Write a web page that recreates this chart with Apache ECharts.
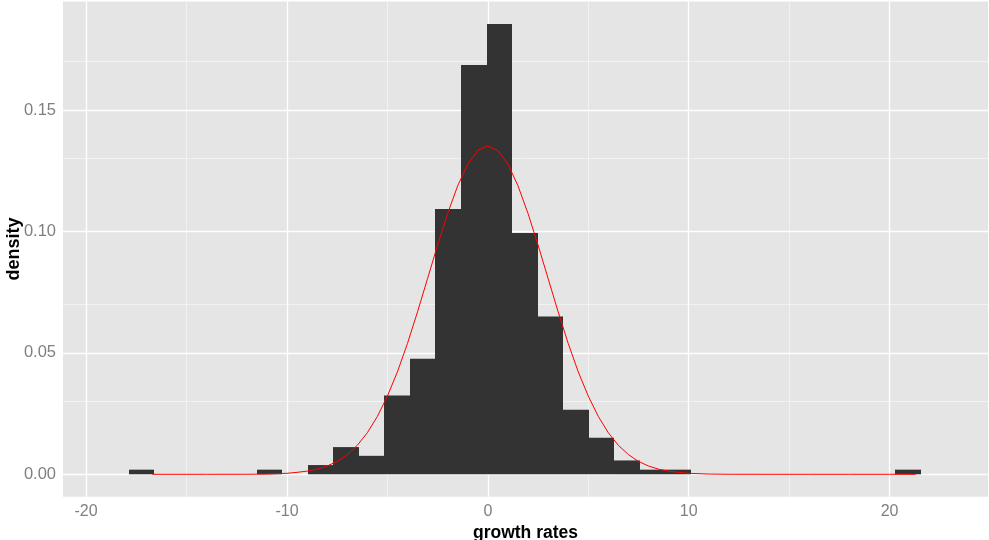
<!DOCTYPE html>
<html>
<head>
<meta charset="utf-8">
<script src="https://cdn.jsdelivr.net/npm/echarts@6/dist/echarts.min.js"></script>
<style>html,body{margin:0;padding:0;background:#fff}#c{width:989px;height:540px}</style>
</head>
<body>
<div id="c"></div>
<script>
// Histogram bins (31 bins, ggplot style)
const binStart = -17.87;
const binWidth = 1.272;
const binDensity = [0.0019,0,0,0,0,0.0019,0,0.0038,0.0112,0.0076,0.0324,0.0476,0.1092,0.1685,0.1854,0.0993,0.0650,0.0266,0.0150,0.0057,0.0019,0.0019,0,0,0,0,0,0,0,0,0.0019];
// Red density curve
const curveX = [-16.7,-14,-12,-11,-10,-9.5,-9,-8.5,-8,-7.5,-7,-6.5,-6,-5.5,-5,-4.5,-4,-3.5,-3,-2.5,-2,-1.5,-1,-0.5,0,0.5,1,1.5,2,2.5,3,3.5,4,4.5,5,5.5,6,6.5,7,7.5,8,8.5,9,9.5,10,11,12,14,16,18,20,21.3];
const curveY = [0,0,0.00001,0.0001,0.0004,0.0008,0.0013,0.0021,0.0034,0.0053,0.0081,0.0119,0.0171,0.0238,0.0322,0.0422,0.0539,0.0669,0.0806,0.0944,0.1074,0.1188,0.1277,0.1333,0.1352,0.1333,0.1277,0.1188,0.1074,0.0944,0.0806,0.0669,0.0539,0.0422,0.0322,0.0238,0.0171,0.0119,0.0081,0.0053,0.0034,0.0021,0.0013,0.0008,0.0004,0.0001,0.00001,0,0,0,0,0];
// Axis ticks
const xMajor = [-20,-10,0,10,20];
const xMinor = [-15,-5,5,15];
const yMajor = [0,0.05,0.10,0.15];
const yMinor = [0.025,0.075,0.125,0.175];
const xTitle = 'growth rates';
const yTitle = 'density';

const FONT = "'Liberation Sans', Arial, sans-serif";
const histData = binDensity.map((d, i) => [binStart + i*binWidth, binStart + (i+1)*binWidth, d]);
const curveData = curveX.map((x, i) => [x, curveY[i]]);

const gridLines = [];
xMinor.forEach(v => gridLines.push({xAxis: v, lineStyle: {color: '#F2F2F2', width: 1, type: 'solid'}}));
yMinor.forEach(v => gridLines.push({yAxis: v, lineStyle: {color: '#F2F2F2', width: 1, type: 'solid'}}));
xMajor.forEach(v => gridLines.push({xAxis: v, lineStyle: {color: '#FFFFFF', width: 1.3, type: 'solid'}}));
yMajor.forEach(v => gridLines.push({yAxis: v, lineStyle: {color: '#FFFFFF', width: 1.3, type: 'solid'}}));

const chart = echarts.init(document.getElementById('c'), null, {renderer: 'canvas'});
chart.setOption({
  animation: false,
  textStyle: {fontFamily: FONT},
  grid: {left: 63, right: 1, top: 1.4, bottom: 43.2, show: true, backgroundColor: '#E5E5E5', borderWidth: 0,
    containLabel: false, outerBoundsMode: 'none'},
  xAxis: {
    type: 'value', min: -21.15, max: 24.9,
    axisLine: {show: false},
    splitLine: {show: false},
    axisTick: {show: true, customValues: xMajor, length: 4, lineStyle: {color: '#7F7F7F', width: 1}},
    axisLabel: {customValues: xMajor, color: '#7F7F7F', fontSize: 16, margin: 7, fontFamily: FONT},
    name: xTitle, nameLocation: 'middle', nameGap: 27, nameMoveOverlap: false,
    nameTextStyle: {color: '#000', fontSize: 17.5, fontWeight: 'bold', fontFamily: FONT}
  },
  yAxis: {
    type: 'value', min: -0.00927, max: 0.1947,
    axisLine: {show: false},
    splitLine: {show: false},
    axisTick: {show: true, customValues: yMajor, length: 4, lineStyle: {color: '#7F7F7F', width: 1}},
    axisLabel: {customValues: yMajor, color: '#7F7F7F', fontSize: 16.5, margin: 7, fontFamily: FONT,
      formatter: v => v.toFixed(2)},
    name: yTitle, nameLocation: 'middle', nameGap: 39.5, nameRotate: 90, nameMoveOverlap: false,
    nameTextStyle: {color: '#000', fontSize: 18, fontWeight: 'bold', fontFamily: FONT}
  },
  series: [
    {
      type: 'line', data: [], z: 1, silent: true,
      markLine: {silent: true, z: 1, symbol: 'none', label: {show: false}, animation: false, data: gridLines}
    },
    {
      type: 'custom', z: 2, silent: true,
      encode: {x: [0, 1], y: 2},
      data: histData,
      renderItem: function (params, api) {
        const h = api.value(2);
        if (!h) return null;
        const p0 = api.coord([api.value(0), h]);
        const p1 = api.coord([api.value(1), 0]);
        const x0 = Math.round(p0[0]), x1 = Math.round(p1[0]);
        return {
          type: 'rect',
          shape: {x: x0, y: p0[1], width: x1 - x0, height: p1[1] - p0[1]},
          style: {fill: '#333333'}
        };
      }
    },
    {
      type: 'line', z: 3, data: curveData, showSymbol: false, smooth: false, silent: true,
      lineStyle: {color: '#FF0000', width: 1}
    }
  ]
});
</script>
</body>
</html>
